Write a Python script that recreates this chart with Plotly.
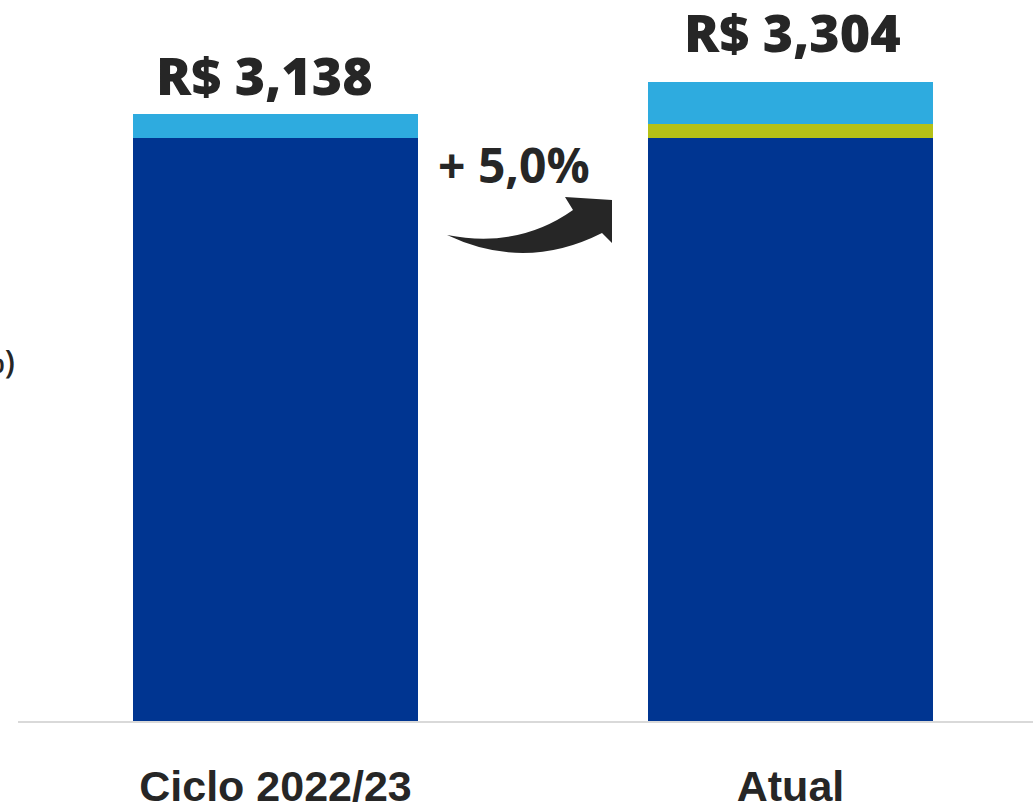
import plotly.graph_objects as go

categories = ["Ciclo 2022/23", "Atual"]
base_values = [3016, 3016]
green_values = [0, 72]
light_values = [122, 216]
totals = [3138, 3304]
total_labels = ["R$ 3,138", "R$ 3,304"]
growth_label = "+ 5,0%"
side_label = "(%)"

DARK = "#003591"
GREEN = "#B5C116"
LIGHT = "#2EABDF"
TEXT = "#262626"

W, H = 1033, 804
ML, MR, MT, MB = 18, 0, 0, 83

x_pos = [0, 1]

fig = go.Figure()
fig.add_trace(go.Bar(x=x_pos, y=base_values, marker=dict(color=DARK, line=dict(width=0)), width=0.5534, hoverinfo="skip"))
fig.add_trace(go.Bar(x=x_pos, y=green_values, marker=dict(color=GREEN, line=dict(width=0)), width=0.5534, hoverinfo="skip"))
fig.add_trace(go.Bar(x=x_pos, y=light_values, marker=dict(color=LIGHT, line=dict(width=0)), width=0.5534, hoverinfo="skip"))

# totals above bars
for xi, tot, lab, ys, xs in zip(x_pos, totals, total_labels, [2, 13], [-11, 2]):
    fig.add_annotation(x=xi, y=tot, text=lab, showarrow=False, yanchor="bottom", yshift=ys, xshift=xs,
                       font=dict(family="Open Sans", size=52, color=TEXT, weight=800))

def px2paper(X, Y):
    return (X - ML) / (W - ML - MR), (H - MB - Y) / (H - MT - MB)

gx, gy = px2paper(514, 130)
fig.add_annotation(xref="paper", yref="paper", x=gx, y=gy, text=growth_label, showarrow=False,
                   font=dict(family="Open Sans", size=48, color=TEXT, weight=700))

# side label (cut at left edge)
fig.add_annotation(xref="paper", yref="paper", x=0, y=px2paper(0, 360)[1], xanchor="right", xshift=-1,
                   text=side_label, showarrow=False,
                   font=dict(family="Open Sans", size=32, color=TEXT, weight=600))

# curved arrow (decoration) in paper coords
pts = [("M", [(447, 235)]), ("Q", [(518, 249), (573, 210)]), ("L", [(565, 197)]), ("L", [(612, 200)]),
       ("L", [(612, 243)]), ("L", [(602, 233)]), ("Q", [(525, 272), (447, 235)])]
path = ""
for cmd, cps in pts:
    path += cmd + " " + " ".join("%.5f,%.5f" % px2paper(*p) for p in cps) + " "
path += "Z"
fig.add_shape(type="path", xref="paper", yref="paper", path=path, fillcolor=TEXT, line=dict(width=0))

fig.update_layout(
    barmode="stack",
    width=W, height=H,
    margin=dict(l=ML, r=MR, t=MT, b=MB, pad=0, autoexpand=False),
    plot_bgcolor="white", paper_bgcolor="white",
    showlegend=False,
    bargap=0,
)
fig.update_xaxes(range=[-0.5, 1.4709], tickvals=x_pos, ticktext=categories, showgrid=False, zeroline=False,
                 showline=True, linecolor="#D9D9D9", linewidth=2, ticks="", ticklabelstandoff=26,
                 automargin=False,
                 tickfont=dict(family="Liberation Sans", size=43, color=TEXT, weight=700))
fig.update_yaxes(range=[0, 3730], visible=False, showgrid=False, zeroline=False, automargin=False)

fig.write_html("out.html", config={"displayModeBar": False},
               post_script="document.body.style.margin='0';document.body.style.overflow='hidden';")
